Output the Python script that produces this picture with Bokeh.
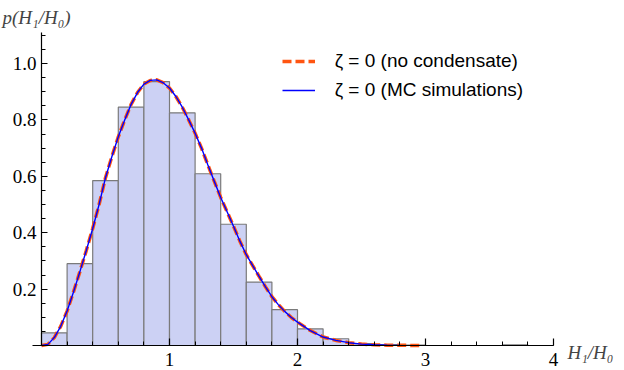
from bokeh.plotting import figure
from bokeh.models import (LinearAxis, FixedTicker, Legend, LegendItem, Range1d,
                          ColumnDataSource, Label, Grid)
from bokeh.embed import file_html
from bokeh.resources import INLINE

# ---------------- data ----------------
bin_left = [0.0, 0.2, 0.4, 0.6, 0.8, 1.0, 1.2, 1.4, 1.6, 1.8, 2.0, 2.2, 2.4, 2.6, 2.8, 3.6]
bin_height = [0.045, 0.29, 0.585, 0.845, 0.936, 0.825, 0.609, 0.43, 0.225, 0.127,
              0.059, 0.024, 0.007, 0.003, 0.001, 0.002]
bin_width = 0.2

theory_x = [0.0, 0.05, 0.1, 0.15, 0.2, 0.25, 0.3, 0.35, 0.4, 0.45, 0.5, 0.55, 0.6, 0.65,
            0.7, 0.75, 0.8, 0.85, 0.9, 0.95, 1.0, 1.05, 1.1, 1.15, 1.2, 1.25, 1.3, 1.35,
            1.4, 1.45, 1.5, 1.55, 1.6, 1.65, 1.7, 1.75, 1.8, 1.85, 1.9, 1.95, 2.0, 2.1,
            2.2, 2.3, 2.4, 2.5, 2.6, 2.7, 2.8, 2.9, 2.96]
theory_y = [0.0, 0.004, 0.028, 0.068, 0.122, 0.19, 0.262, 0.337, 0.415, 0.5, 0.595, 0.67,
            0.74, 0.80, 0.855, 0.897, 0.927, 0.940, 0.942, 0.932, 0.913, 0.883, 0.845,
            0.800, 0.753, 0.700, 0.640, 0.582, 0.525, 0.474, 0.423, 0.370, 0.322, 0.283,
            0.245, 0.208, 0.173, 0.145, 0.121, 0.100, 0.083, 0.053, 0.030, 0.018, 0.010,
            0.005, 0.0025, 0.0012, 0.0006, 0.0003, 0.0002]

mc_x = theory_x[:49]
mc_y = theory_y[:49]

x_ticks = [1, 2, 3, 4]
x_tick_labels = ["1", "2", "3", "4"]
y_ticks = [0.2, 0.4, 0.6, 0.8, 1.0]
y_tick_labels = ["0.2", "0.4", "0.6", "0.8", "1.0"]

legend_labels = ["ζ = 0 (no condensate)", "ζ = 0 (MC simulations)"]

# ---------------- figure ----------------
W, H = 624, 370
p = figure(width=W, height=H, output_backend="svg", toolbar_location=None,
           x_range=Range1d(-41 / 128, (W - 41) / 128),
           y_range=Range1d(-(H - 345) / 282, 345 / 282),
           x_axis_location=None, y_axis_location=None, title_location=None,
           min_border=0)
p.outline_line_color = None
p.background_fill_color = "white"
p.border_fill_color = "white"

src = ColumnDataSource(dict(left=bin_left,
                            right=[b + bin_width for b in bin_left],
                            top=bin_height,
                            bottom=[0] * len(bin_left)))
p.quad(left="left", right="right", top="top", bottom="bottom", source=src,
       fill_color="#CCD1F4", line_color="#7a7a7a", line_width=1.2)

r_red = p.line(theory_x, theory_y, line_color="#FF5511", line_width=3.5, line_dash="9 4")
r_blue = p.line(mc_x, mc_y, line_color="#0000FF", line_width=1.4)

serif = "Liberation Serif"

yax = LinearAxis(fixed_location=0, bounds=(0, 1.11),
                 ticker=FixedTicker(ticks=y_ticks,
                                    minor_ticks=[round(0.05 * i, 2) for i in range(1, 23)]),
                 major_label_overrides={t: l for t, l in zip(y_ticks, y_tick_labels)},
                 major_tick_in=6, major_tick_out=0, minor_tick_in=4, minor_tick_out=0,
                 major_label_standoff=5, axis_line_width=1.2, major_tick_line_width=1.2,
                 minor_tick_line_width=1.0,
                 major_label_text_font=serif, major_label_text_font_size="19px",
                 major_label_text_color="black")
p.add_layout(yax, "left")

xax = LinearAxis(fixed_location=0, bounds=(-0.07, 4.0),
                 ticker=FixedTicker(ticks=x_ticks,
                                    minor_ticks=[round(0.2 * i, 2) for i in range(1, 21)]),
                 major_label_overrides={t: l for t, l in zip(x_ticks, x_tick_labels)},
                 major_tick_in=7, major_tick_out=0, minor_tick_in=4, minor_tick_out=0,
                 major_label_standoff=7, axis_line_width=1.2, major_tick_line_width=1.2,
                 minor_tick_line_width=1.0,
                 major_label_text_font=serif, major_label_text_font_size="19px",
                 major_label_text_color="black")
p.add_layout(xax, "below")

for g in p.select(type=Grid):
    g.visible = False

p.add_layout(Label(x=2, y=H - 17, x_units="screen", y_units="screen",
                   text="p(H₁/H₀)", text_font=serif, text_font_style="italic",
                   text_font_size="19px", text_baseline="alphabetic", text_align="left"))
p.add_layout(Label(x=567, y=H - 352, x_units="screen", y_units="screen",
                   text="H₁/H₀", text_font=serif, text_font_style="italic",
                   text_font_size="19px", text_baseline="alphabetic", text_align="left"))

legend = Legend(items=[LegendItem(label=legend_labels[0], renderers=[r_red]),
                       LegendItem(label=legend_labels[1], renderers=[r_blue])],
                location=(281.7, 268), glyph_width=33, glyph_height=24, label_height=24,
                label_standoff=20, spacing=5, padding=0, margin=0,
                border_line_color=None, background_fill_alpha=0,
                label_text_font="Liberation Sans", label_text_font_size="19px",
                label_text_color="black")
p.add_layout(legend)

open("out.html", "w").write(file_html(p, INLINE))
